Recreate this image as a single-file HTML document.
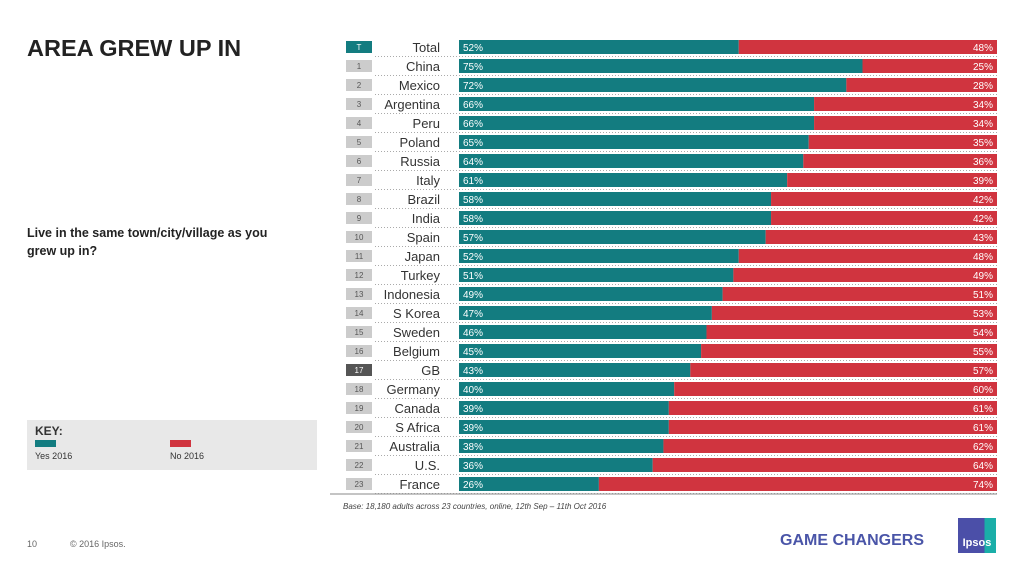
<!DOCTYPE html>
<html><head><meta charset="utf-8"><style>
body{margin:0;width:1024px;height:576px;background:#fff;font-family:"Liberation Sans",sans-serif;position:relative;overflow:hidden}
.abs{position:absolute}
</style></head><body>
<div class="abs" style="left:27px;top:35px;font-size:23.5px;font-weight:bold;color:#222">AREA GREW UP IN</div>
<div class="abs" style="left:27px;top:224px;font-size:12.5px;font-weight:bold;color:#222;line-height:18px;width:272px">Live in the same town/city/village as you grew up in?</div>
<div class="abs" style="left:27px;top:420px;width:290px;height:50px;background:#e8e8e8">
 <div class="abs" style="left:8px;top:4px;font-size:12px;font-weight:bold;color:#333">KEY:</div>
 <div class="abs" style="left:8px;top:20px;width:21px;height:7px;background:#137c80"></div>
 <div class="abs" style="left:8px;top:31px;font-size:9px;color:#333">Yes 2016</div>
 <div class="abs" style="left:143px;top:20px;width:21px;height:7px;background:#d0343f"></div>
 <div class="abs" style="left:143px;top:31px;font-size:9px;color:#333">No 2016</div>
</div>
<div class="abs" style="left:27px;top:539px;font-size:9px;color:#666">10</div>
<div class="abs" style="left:70px;top:539px;font-size:9px;color:#666">© 2016 Ipsos.</div>
<div class="abs" style="left:343px;top:502px;font-size:8px;font-style:italic;color:#444">Base: 18,180 adults across 23 countries, online, 12th Sep – 11th Oct 2016</div>
<div class="abs" style="left:780px;top:532px;font-size:16px;font-weight:bold;color:#4a55a8">GAME CHANGERS</div>
<div class="abs" style="left:958px;top:518px;width:38px;height:35px;background:linear-gradient(90deg,#4b4fa8 70%,#1aaea8 70%);color:#fff;font-size:11px;font-weight:bold;text-align:center;line-height:50px">Ipsos</div>
<svg class="abs" style="left:0;top:0" width="1024" height="576" id="chart"></svg>
<script>
const countries=["Total","China","Mexico","Argentina","Peru","Poland","Russia","Italy","Brazil","India","Spain","Japan","Turkey","Indonesia","S Korea","Sweden","Belgium","GB","Germany","Canada","S Africa","Australia","U.S.","France"];
const ranks=["T","1","2","3","4","5","6","7","8","9","10","11","12","13","14","15","16","17","18","19","20","21","22","23"];
const yesValues=[52,75,72,66,66,65,64,61,58,58,57,52,51,49,47,46,45,43,40,39,39,38,36,26];
const noValues=[48,25,28,34,34,35,36,39,42,42,43,48,49,51,53,54,55,57,60,61,61,62,64,74];
const svg=document.getElementById('chart');
const NS='http://www.w3.org/2000/svg';
const x0=459,x1=997,y0=47,step=19,bh=14;
const xs=v=>x0+(x1-x0)*v/100;
const yc=i=>y0+i*step;
function mk(t,a){const e=document.createElementNS(NS,t);for(const k in a)e.setAttribute(k,a[k]);svg.appendChild(e);return e;}
countries.forEach((c,i)=>{
 const y=yc(i);
 const dot=mk('line',{x1:375,x2:997,y1:y+9.5,y2:y+9.5,stroke:'#aaa','stroke-dasharray':'1,2','stroke-width':1});
 
 
 const badgeColor=i===0?'#137c80':(ranks[i]==='17'?'#555':'#ccc');
 const b=mk('rect',{x:346,y:y-6,width:26,height:12,fill:badgeColor});
 
 
 const bt=mk('text',{x:359,y:y+3,'font-size':8,'text-anchor':'middle',fill:(i===0||ranks[i]==='17')?'#fff':'#555','font-family':'Liberation Sans'});
 bt.textContent=ranks[i];
 
 
 const lt=mk('text',{x:440,y:y+5,'font-size':13,'text-anchor':'end',fill:'#333','font-family':'Liberation Sans'});
 lt.textContent=c;
 
 
 const r1=mk('rect',{x:x0,y:y-bh/2,width:xs(yesValues[i])-x0,height:bh,fill:'#137c80'});
 
 
 const r2=mk('rect',{x:xs(yesValues[i]),y:y-bh/2,width:xs(yesValues[i]+noValues[i])-xs(yesValues[i]),height:bh,fill:'#d0343f'});
 
 
 const t1=mk('text',{x:x0+4,y:y+4,'font-size':10,fill:'#fff','font-family':'Liberation Sans'});
 t1.textContent=yesValues[i]+'%';
 
 
 const t2=mk('text',{x:x1-4,y:y+4,'font-size':10,fill:'#fff','text-anchor':'end','font-family':'Liberation Sans'});
 t2.textContent=noValues[i]+'%';
 
 
});
const base=mk('line',{x1:330,x2:997,y1:494,y2:494,stroke:'#888','stroke-width':1});


</script>
</body></html>
